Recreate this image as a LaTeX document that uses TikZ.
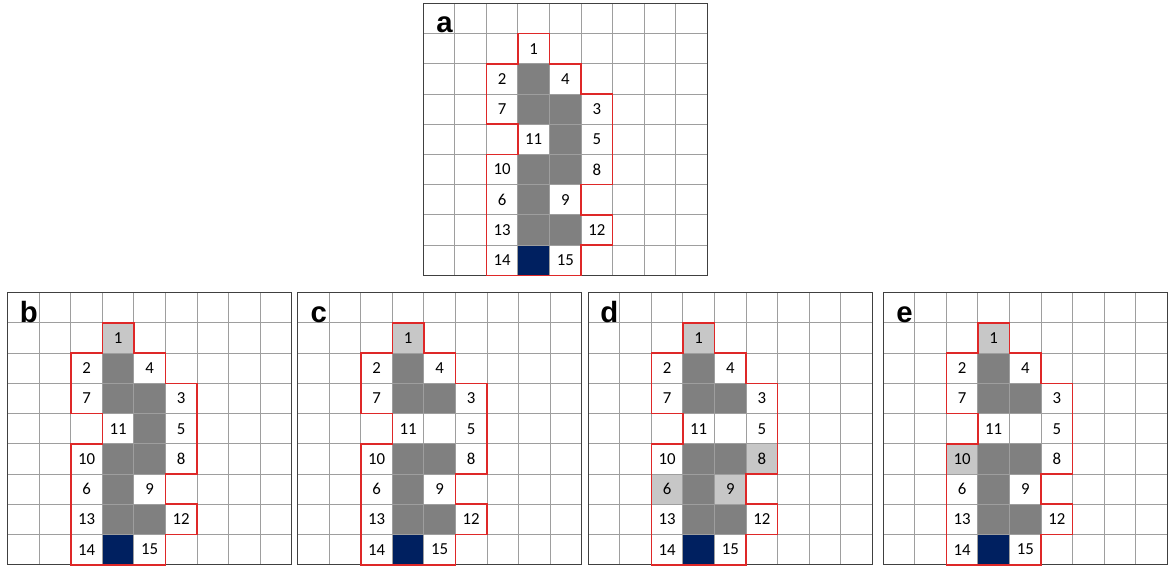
\documentclass[tikz,border=0pt]{standalone}
\usepackage{fontspec}
\setmainfont{Carlito}
\newfontfamily\labelfont{Liberation Sans}

\definecolor{navy}{RGB}{0,32,96}
\definecolor{outlinered}{RGB}{222,40,40}

\tikzset{
    gridline/.style={black!38, line width=0.7pt},
    frame/.style={black!75, line width=1pt},
    outline/.style={outlinered, line width=1.2pt, line join=miter},
    darkcell/.style={fill=black!50},
    lightcell/.style={fill=black!22},
    basecell/.style={fill=navy},
    num/.style={font=\fontsize{12.6}{12.6}\selectfont, inner sep=0pt},
    panellabel/.style={font=\labelfont\bfseries\fontsize{22}{22}\selectfont, anchor=base, inner sep=0pt},
}

% one filled cell of a grid (column, row from top)
\newcommand{\gridcell}[3][darkcell]{\fill[#1] (#2,#3) rectangle ++(1,1);}

% one 9x9 panel: left px, top px, letter, extra cells
\newcommand{\drawpanel}[4]{%
  \begin{scope}[shift={(#1*0.75pt,-#2*0.75pt)}, x=23.66pt, y=-22.67pt]
    \foreach \c/\r in {3/2,3/3,4/3,3/5,4/5,3/6,3/7,4/7}
        \gridcell{\c}{\r}
    #4
    \gridcell[basecell]{3}{8}
    \foreach \i in {1,...,8} {
        \draw[gridline] (\i,0) -- (\i,9);
        \draw[gridline] (0,\i) -- (9,\i);
    }
    \draw[frame] (0,0) rectangle (9,9);
    \draw[outline] (3,1) -| (4,2) -| (5,3) -| (6,6) -| (5,7) -| (6,8) -| (5,9)
        -| (2,5) -| (3,4) -| (2,2) -| (3,1) -- cycle;
    \foreach \n/\c/\r in {1/3/1, 2/2/2, 4/4/2, 7/2/3, 3/5/3, 11/3/4, 5/5/4,
        10/2/5, 8/5/5, 6/2/6, 9/4/6, 13/2/7, 12/5/7, 14/2/8, 15/4/8}
        \node[num] (#3-\n) at (\c+0.5,\r+0.5) {\n};
    \node[panellabel] (#3-label) at (0.67,0.97) {#3};
  \end{scope}}

\begin{document}
\begin{tikzpicture}
    \useasboundingbox (0pt,0pt) rectangle (877.5pt,-425.25pt);
    \drawpanel{423.3}{3.3}{a}{\gridcell{4}{4}}
    \drawpanel{7.7}{292.7}{b}{\gridcell{4}{4}\gridcell[lightcell]{3}{1}}
    \drawpanel{297.7}{292.7}{c}{\gridcell[lightcell]{3}{1}}
    \drawpanel{588.3}{292.7}{d}{\gridcell[lightcell]{3}{1}\gridcell[lightcell]{5}{5}%
        \gridcell[lightcell]{2}{6}\gridcell[lightcell]{4}{6}}
    \drawpanel{883.3}{292.7}{e}{\gridcell[lightcell]{3}{1}\gridcell[lightcell]{2}{5}}
\end{tikzpicture}
\end{document}
